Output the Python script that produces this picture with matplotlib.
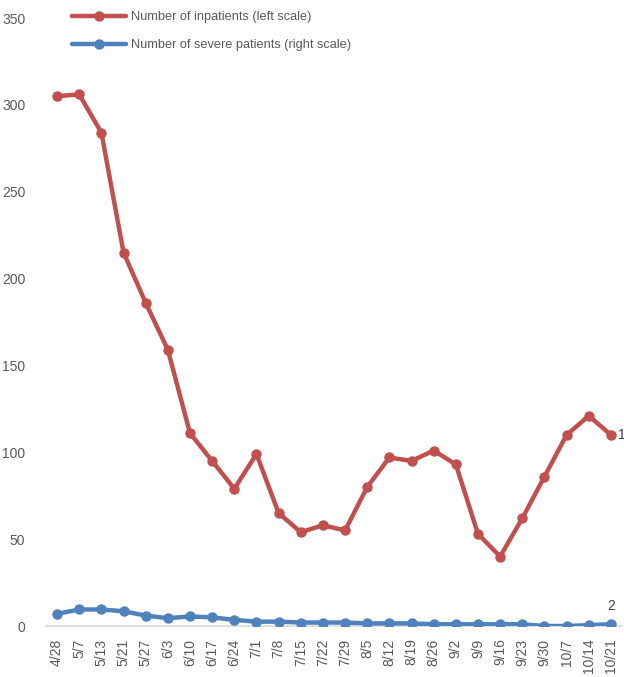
import matplotlib
matplotlib.use("Agg")
import matplotlib.pyplot as plt

dates = ["4/28", "5/7", "5/13", "5/21", "5/27", "6/3", "6/10", "6/17", "6/24",
         "7/1", "7/8", "7/15", "7/22", "7/29", "8/5", "8/12", "8/19", "8/26",
         "9/2", "9/9", "9/16", "9/23", "9/30", "10/7", "10/14", "10/21"]
inpatients = [305, 306, 284, 215, 186, 159, 111, 95, 79, 99, 65, 54, 58, 55,
              80, 97, 95, 101, 93, 53, 40, 62, 86, 110, 121, 110]
severe = [14, 19, 19, 17, 12, 9, 11, 10, 7, 5, 5, 4, 4, 4, 3, 3, 3, 2, 2, 2,
          2, 2, 0, 0, 1, 2]
left_ticks = [0, 50, 100, 150, 200, 250, 300, 350]

plt.rcParams['font.family'] = ['Liberation Sans', 'DejaVu Sans']
red = "#C0504D"
blue = "#4F81BD"
gray = "#595959"

fig = plt.figure(figsize=(6.24, 6.77), dpi=100)
ax = fig.add_axes([46/624, 51/677, 576/624, 608/677])
ax2 = ax.twinx()

x = list(range(len(dates)))
l1, = ax.plot(x, inpatients, color=red, lw=3.2, marker='o', ms=6.5,
              label="Number of inpatients (left scale)", solid_capstyle='round')
l2, = ax2.plot(x, severe, color=blue, lw=3.2, marker='o', ms=6.5,
               label="Number of severe patients (right scale)", solid_capstyle='round')

ax.set_xlim(-0.5, len(dates) - 0.5)
ax.set_ylim(0, 350)
ax2.set_ylim(0, 700)
ax.set_yticks(left_ticks)
ax.set_xticks(x)
ax.set_xticklabels(dates, rotation=90, fontsize=10, color=gray)
ax.tick_params(axis='y', labelsize=10, labelcolor=gray, length=0, pad=15)
ax.tick_params(axis='x', length=0, pad=9)
for s in ['top', 'right', 'left']:
    ax.spines[s].set_visible(False)
    ax2.spines[s].set_visible(False)
ax2.spines['bottom'].set_visible(False)
ax.spines['bottom'].set_color('#D9D9D9')
ax.spines['bottom'].set_linewidth(1.2)
ax2.set_yticks([])

ax.annotate(str(inpatients[-1]), (x[-1], inpatients[-1]), xytext=(5, 0),
            textcoords='offset points', ha='left', va='center', fontsize=10,
            color='#404040', annotation_clip=False)
ax2.annotate(str(severe[-1]), (x[-1], severe[-1]), xytext=(0, 8),
             textcoords='offset points', ha='center', va='bottom', fontsize=10,
             color='#404040', annotation_clip=False)

leg = ax.legend(handles=[l1, l2], loc='upper left', bbox_to_anchor=(0.025, 1.03),
                frameon=False, fontsize=9.2, handlelength=4.2, handletextpad=0.4,
                labelspacing=1.25, labelcolor=gray)

fig.savefig("out.png", dpi=100)
